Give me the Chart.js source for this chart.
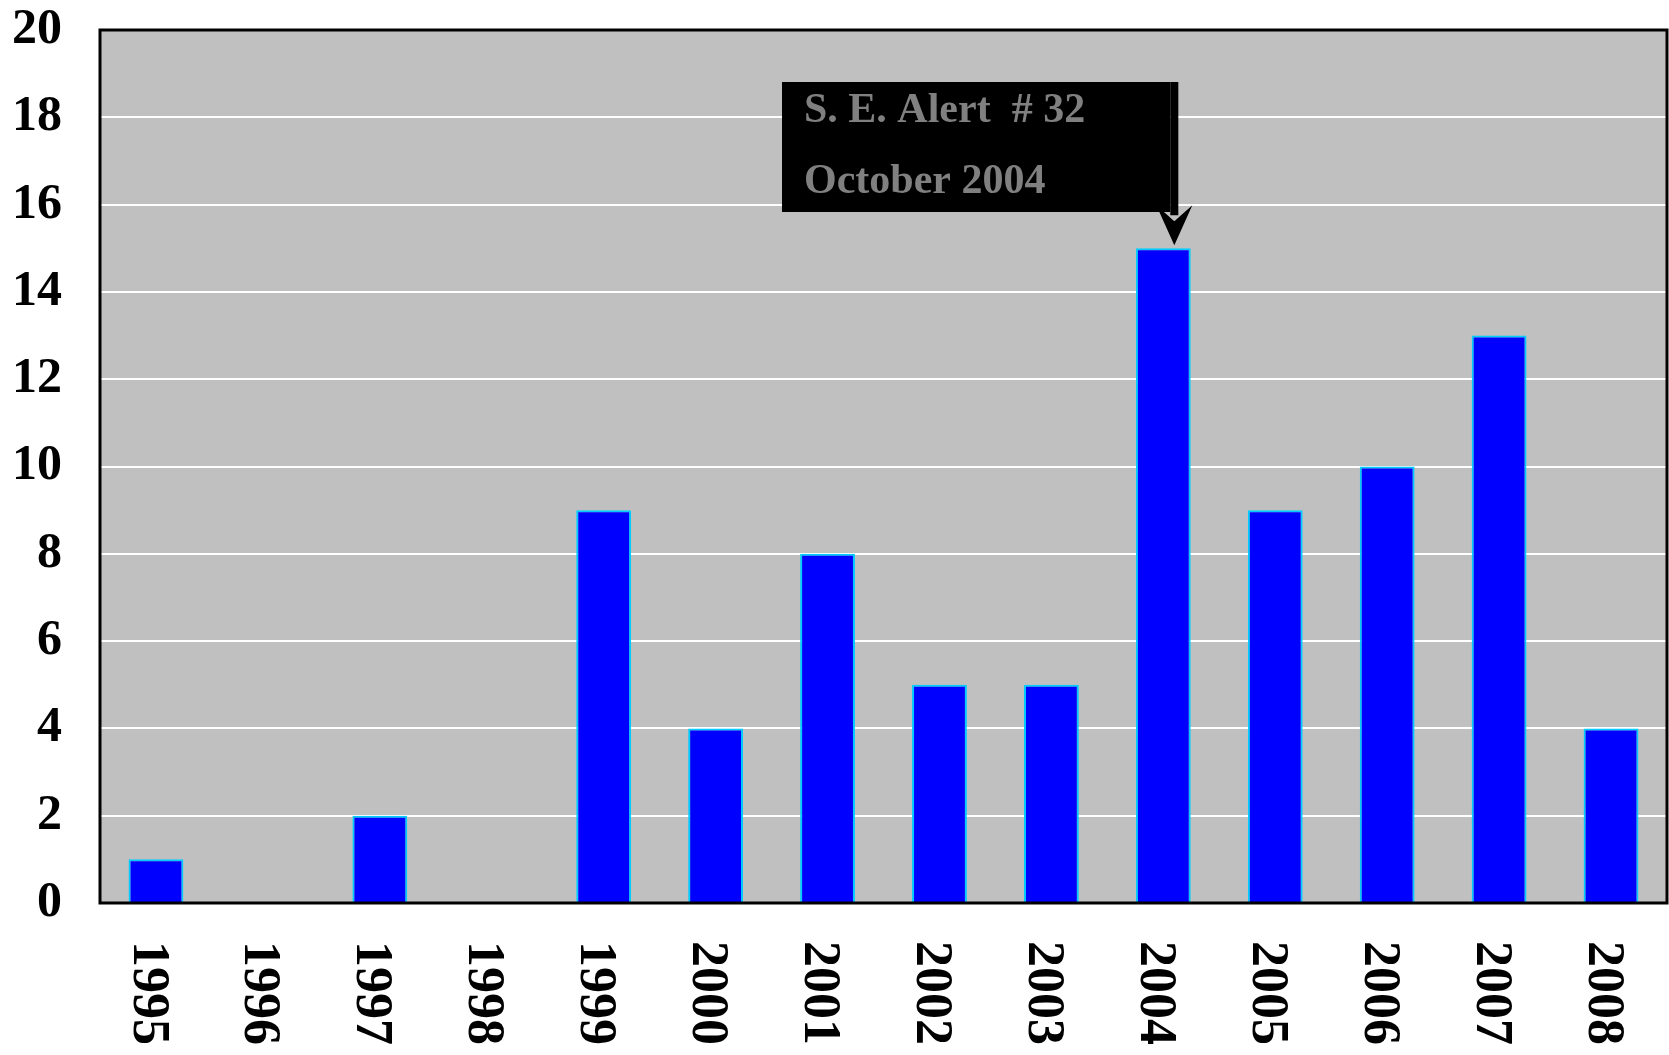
<!DOCTYPE html>
<html>
<head>
<meta charset="utf-8">
<script src="https://cdn.jsdelivr.net/npm/chart.js@4"></script>
<style>
  html, body { margin: 0; padding: 0; background: #fff; }
  #wrap { width: 1669px; height: 1055px; }
</style>
</head>
<body>
<div id="wrap"><canvas id="alertChart"></canvas></div>
<script>
// data
const years = ['1995', '1996', '1997', '1998', '1999', '2000', '2001',
               '2002', '2003', '2004', '2005', '2006', '2007', '2008'];
const counts = [1, 0, 2, 0, 9, 4, 8, 5, 5, 15, 9, 10, 13, 4];
const yTicks = [0, 2, 4, 6, 8, 10, 12, 14, 16, 18, 20];
const noteLines = ['S. E. Alert  # 32', 'October 2004'];
const noteIndex = 9; // 2004

const serif = '"Liberation Serif", "Times New Roman", serif';

// grey plot background + black frame
const frame = {
    id: 'frame',
    beforeDraw(chart) {
        const a = chart.chartArea, c = chart.ctx;
        c.save();
        c.fillStyle = '#c0c0c0';
        c.fillRect(a.left, a.top, a.right - a.left, a.bottom - a.top);
        c.restore();
    },
    afterDraw(chart) {
        const a = chart.chartArea, c = chart.ctx;
        c.save();
        c.strokeStyle = '#000';
        c.lineWidth = 3;
        c.strokeRect(a.left, a.top, a.right - a.left, a.bottom - a.top);
        c.restore();
    }
};

// year labels turned clockwise, reading downwards
const yearLabels = {
    id: 'yearLabels',
    afterDraw(chart) {
        const x = chart.scales.x, c = chart.ctx;
        c.save();
        c.fillStyle = '#000';
        c.font = 'bold 52px ' + serif;
        c.textAlign = 'left';
        c.textBaseline = 'middle';
        years.forEach(function(y, i) {
            c.save();
            c.translate(x.getPixelForTick(i) - 9, chart.chartArea.bottom + 38);
            c.rotate(Math.PI / 2);
            c.fillText(y, 0, 0);
            c.restore();
        });
        c.restore();
    }
};

// callout box with arrow to the 2004 bar
const callout = {
    id: 'callout',
    afterDatasetsDraw(chart) {
        const x = chart.scales.x, y = chart.scales.y, c = chart.ctx;
        const ax = x.getPixelForValue(noteIndex) + 11;
        const tip = y.getPixelForValue(counts[noteIndex]) - 3;
        const top = 82, bottom = 212, left = 782, right = ax - 4;
        c.save();
        c.fillStyle = '#000';
        c.fillRect(left, top, right - left, bottom - top);
        // arrow shaft
        c.fillRect(ax - 4, top, 8, tip - top - 30);
        // arrow head
        c.beginPath();
        c.moveTo(ax - 18, tip - 40);
        c.lineTo(ax, tip - 24);
        c.lineTo(ax + 18, tip - 40);
        c.lineTo(ax, tip);
        c.closePath();
        c.fill();
        c.fillStyle = '#808080';
        c.font = 'bold 42px ' + serif;
        c.textAlign = 'left';
        c.textBaseline = 'alphabetic';
        c.fillText(noteLines[0], 804, 122);
        c.fillText(noteLines[1], 804, 193);
        c.restore();
    }
};

const ctx = document.getElementById('alertChart').getContext('2d');
const alertChart = new Chart(ctx, {
    type: 'bar',
    data: {
        labels: years,
        datasets: [{
            data: counts,
            backgroundColor: '#0000ff',
            borderColor: '#00ccff',
            borderWidth: 2,
            barPercentage: 0.49,
            categoryPercentage: 1
        }]
    },
    options: {
        responsive: true,
        maintainAspectRatio: false,
        animation: false,
        events: [],
        layout: { padding: { top: 0, right: 2, left: 0, bottom: 0 } },
        plugins: {
            legend: { display: false },
            tooltip: { enabled: false }
        },
        scales: {
            x: {
                grid: { display: false, drawTicks: false },
                border: { display: false },
                ticks: { display: false },
                afterFit: function(scale) { scale.height = 152; }
            },
            y: {
                min: 0,
                max: 20,
                afterBuildTicks: function(scale) {
                    scale.ticks = yTicks.map(function(v) { return { value: v }; });
                },
                grid: {
                    color: function(c) {
                        return (c.tick.value === 0 || c.tick.value === 20) ? 'rgba(0,0,0,0)' : '#ffffff';
                    },
                    lineWidth: 2,
                    drawTicks: true,
                    tickLength: 38,
                    tickColor: 'rgba(0,0,0,0)'
                },
                border: { display: false },
                ticks: {
                    color: '#000',
                    padding: 0,
                    font: { family: serif, size: 50, weight: 'bold' }
                },
                afterFit: function(scale) { scale.width = 100; }
            }
        }
    },
    plugins: [frame, yearLabels, callout]
});
</script>
</body>
</html>
